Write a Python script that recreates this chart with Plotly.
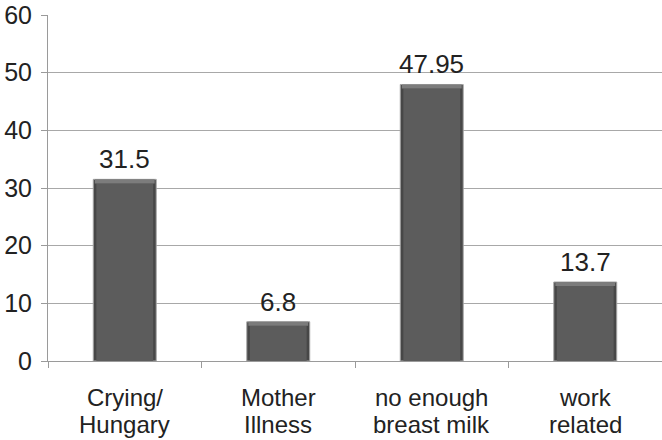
import plotly.graph_objects as go

categories = ["Crying/Hungary", "Mother Illness", "no enough breast milk", "work related"]
label_line1 = ["Crying/", "Mother", "no enough", "work"]
label_line2 = ["Hungary", "Illness", "breast milk", "related"]
values = [31.5, 6.8, 47.95, 13.7]
value_labels = ["31.5", "6.8", "47.95", "13.7"]

font_family = "Liberation Sans, Arial, sans-serif"
text_color = "#222222"
bevel = 0.7  # depth of the lighter top edge, in axis units

fig = go.Figure()
# outer bar body with darker edges
fig.add_trace(go.Bar(
    x=categories, y=values, width=0.41,
    marker=dict(color="#474747", line=dict(color="#a5a5a5", width=1)),
    hoverinfo="skip",
))
# lighter inner face
fig.add_trace(go.Bar(
    x=categories, y=[v - bevel for v in values], width=0.37,
    marker=dict(color="#5c5c5c", line=dict(width=0)),
    hoverinfo="skip",
))
# highlighted top edge
fig.add_trace(go.Bar(
    x=categories, y=[bevel] * len(values), base=[v - bevel for v in values],
    width=0.39,
    marker=dict(color="#7c7c7c", line=dict(width=0)),
    hoverinfo="skip",
))

annotations = []
for cat, v, lab in zip(categories, values, value_labels):
    annotations.append(dict(
        x=cat, y=v, xref="x", yref="y", text=lab, showarrow=False,
        yanchor="bottom", yshift=3,
        font=dict(size=26, color=text_color, family=font_family),
    ))
# two-line category labels, set with tight line spacing
for cat, l1, l2 in zip(categories, label_line1, label_line2):
    annotations.append(dict(
        x=cat, y=0, xref="x", yref="paper", text=l1, showarrow=False,
        yanchor="middle", yshift=-36,
        font=dict(size=24, color=text_color, family=font_family),
    ))
    annotations.append(dict(
        x=cat, y=0, xref="x", yref="paper", text=l2, showarrow=False,
        yanchor="middle", yshift=-63,
        font=dict(size=24, color=text_color, family=font_family),
    ))

fig.update_layout(
    width=662, height=440,
    margin=dict(l=48, r=0, t=15, b=79),
    paper_bgcolor="white", plot_bgcolor="white",
    showlegend=False,
    barmode="overlay",
    font=dict(family=font_family, size=25, color=text_color),
    annotations=annotations,
    xaxis=dict(
        showline=True, linecolor="#9a9a9a", linewidth=1,
        ticks="outside", tickson="boundaries", ticklen=6, tickcolor="#9a9a9a",
        showticklabels=False,
        showgrid=False,
    ),
    yaxis=dict(
        range=[0, 60], dtick=10,
        showline=True, linecolor="#9a9a9a", linewidth=1,
        ticks="outside", ticklen=6, tickcolor="#9a9a9a",
        showgrid=True, gridcolor="#a8a8a8", gridwidth=1,
        zeroline=False,
        tickfont=dict(size=25, color=text_color),
        ticklabelstandoff=4,
    ),
)

fig.write_html("out.html")
